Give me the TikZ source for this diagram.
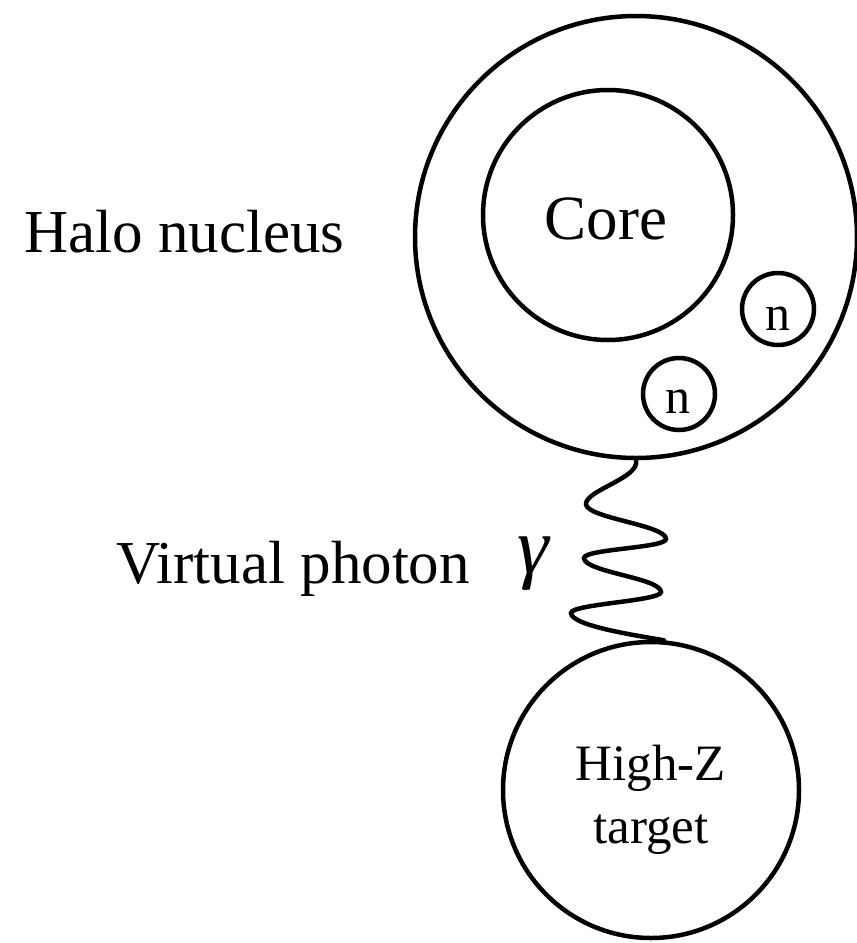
\documentclass[tikz,border=0pt]{standalone}
\usepackage{fontspec}
\setmainfont{Liberation Serif}
\begin{document}
\begin{tikzpicture}[x=1pt,y=-1pt,
  ring/.style={draw, circle, line width=4.5pt, inner sep=0pt},
  bigtext/.style={inner sep=0pt, font=\fontsize{61}{63}\selectfont},
  midtext/.style={inner sep=0pt, font=\fontsize{51}{63}\selectfont, align=center},
  ntext/.style={inner sep=0pt, font=\fontsize{50}{60}\selectfont},
  wave/.style={line width=4.5pt, line cap=round}]
\useasboundingbox (0,0) rectangle (857,943);
% circles
\node[ring, minimum size=442pt] (halo) at (636,237) {};
\node[ring, minimum size=250pt] (core) at (608,215) {};
\node[ring, minimum size=72pt] (n1) at (778,309) {};
\node[ring, minimum size=72pt] (n2) at (679,394) {};
\node[ring, minimum size=296pt] (target) at (651,790) {};
% texts inside
\node[bigtext, anchor=base, font=\fontsize{63}{63}\selectfont] (coretxt) at (606,239) {Core};
\node[ntext, anchor=base] (n1txt) at (778,330) {n};
\node[ntext, anchor=base] (n2txt) at (678,413) {n};
\node[midtext, anchor=base] (hz) at (651,780) {High-Z};
\node[midtext, anchor=base] (tg) at (651,843) {target};
% labels
\node[bigtext, anchor=base west] (halolbl) at (24,252) {Halo nucleus};
\node[bigtext, anchor=base west] (vplbl) at (116,583) {Virtual photon};
\node[bigtext, anchor=base, font=\fontsize{80}{80}\selectfont] (gam) at (533,573) {\itshape γ};
% photon
\draw[wave] (halo.south) .. controls (640,478) and (586,490) .. (586,504)
  .. controls (586,518) and (666,525) .. (666,539)
  .. controls (666,548) and (584,549) .. (584,558)
  .. controls (584,572) and (661,578) .. (661,592)
  .. controls (661,601) and (571,604) .. (571,613)
  .. controls (571,626) and (640,636) .. (target.85);
\end{tikzpicture}
\end{document}
